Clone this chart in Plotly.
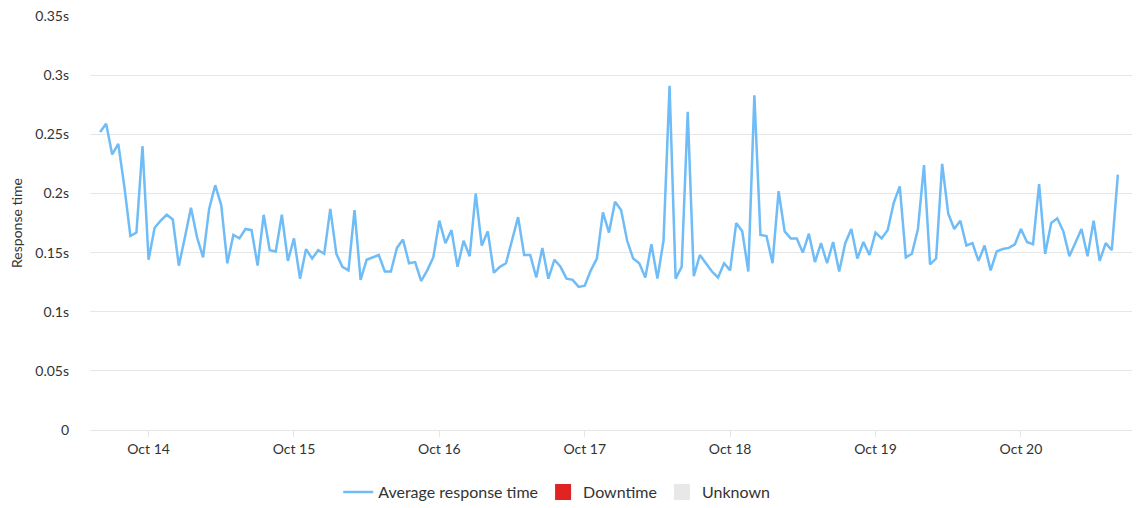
import pandas as pd
import plotly.graph_objects as go

# hourly average response time (seconds), Oct 13 16:00 -> Oct 20 16:00
start_time = "2023-10-13 16:00"
response_time = [
    0.252, 0.259, 0.233, 0.242, 0.206, 0.164, 0.167, 0.240, 0.144, 0.171,
    0.177, 0.182, 0.178, 0.139, 0.163, 0.188, 0.163, 0.146, 0.187, 0.207,
    0.190, 0.141, 0.165, 0.162, 0.170, 0.169, 0.139, 0.182, 0.152, 0.151,
    0.182, 0.143, 0.162, 0.128, 0.153, 0.145, 0.152, 0.149, 0.187, 0.149,
    0.138, 0.135, 0.186, 0.127, 0.144, 0.146, 0.148, 0.134, 0.134, 0.154,
    0.161, 0.141, 0.142, 0.126, 0.135, 0.146, 0.177, 0.158, 0.169, 0.138,
    0.160, 0.147, 0.200, 0.156, 0.168, 0.133, 0.138, 0.141, 0.160, 0.180,
    0.148, 0.148, 0.129, 0.154, 0.128, 0.144, 0.138, 0.128, 0.127, 0.121,
    0.122, 0.135, 0.145, 0.184, 0.167, 0.193, 0.186, 0.160, 0.145, 0.141,
    0.129, 0.157, 0.128, 0.160, 0.291, 0.128, 0.138, 0.269, 0.130, 0.148,
    0.141, 0.134, 0.129, 0.141, 0.135, 0.175, 0.168, 0.134, 0.283, 0.165,
    0.164, 0.141, 0.202, 0.168, 0.162, 0.162, 0.150, 0.166, 0.142, 0.158,
    0.141, 0.159, 0.134, 0.158, 0.170, 0.145, 0.159, 0.148, 0.167, 0.162,
    0.169, 0.192, 0.206, 0.146, 0.149, 0.170, 0.224, 0.140, 0.145, 0.225,
    0.183, 0.170, 0.177, 0.156, 0.158, 0.143, 0.156, 0.135, 0.151, 0.153,
    0.154, 0.157, 0.170, 0.159, 0.157, 0.208, 0.149, 0.175, 0.179, 0.168,
    0.147, 0.159, 0.170, 0.147, 0.177, 0.143, 0.158, 0.152, 0.216,
]
times = pd.date_range(start_time, periods=len(response_time), freq="h")

y_ticks = [0, 0.05, 0.1, 0.15, 0.2, 0.25, 0.3, 0.35]
y_tick_labels = ["0", "0.05s", "0.1s", "0.15s", "0.2s", "0.25s", "0.3s", "0.35s"]

grid = "#e6e6e6"
text = "#333333"

fig = go.Figure()
fig.add_trace(go.Scatter(x=times, y=response_time, mode="lines",
                         name="Average response time",
                         line=dict(color="#6fbcf7", width=2.5)))
fig.add_trace(go.Scatter(x=[None], y=[None], mode="markers", name="Downtime",
                         marker=dict(symbol="square", size=16, color="#e02424")))
fig.add_trace(go.Scatter(x=[None], y=[None], mode="markers", name="Unknown",
                         marker=dict(symbol="square", size=16, color="#e8e8e8")))

# page body adds an 8px offset, so the figure is 8px smaller each way
fig.update_layout(
    width=1132, height=500,
    margin=dict(l=82, r=7, t=8, b=78, autoexpand=False),
    paper_bgcolor="white", plot_bgcolor="white",
    font=dict(family="Lato, sans-serif", size=14, color=text),
    showlegend=True,
    legend=dict(orientation="h", x=0.238, xanchor="left", y=-0.15, yanchor="middle",
                font=dict(size=16, color=text), itemwidth=30),
)
fig.update_xaxes(
    range=["2023-10-13 14:20", "2023-10-20 18:30"],
    tick0="2023-10-14", dtick=86400000, tickformat="%b %-d",
    showgrid=False, showline=True, linecolor=grid, linewidth=1,
    ticks="outside", ticklen=6, tickcolor=grid, automargin=False,
)
fig.update_yaxes(
    range=[0, 0.3501], tickvals=y_ticks, ticktext=y_tick_labels,
    gridcolor=grid, zeroline=False, ticks="", ticklabelstandoff=20, automargin=False,
    ticklabeloverflow="allow",
    title=dict(text="Response time", font=dict(size=14, color=text), standoff=12),
)

fig.write_html("out.html")
